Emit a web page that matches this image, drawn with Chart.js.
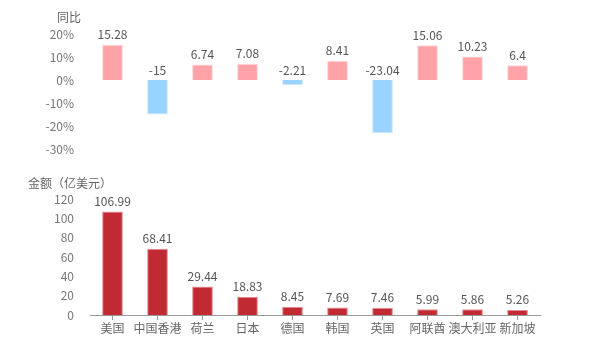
<!DOCTYPE html>
<html>
<head>
<meta charset="utf-8">
<script src="https://cdn.jsdelivr.net/npm/chart.js@4/dist/chart.umd.min.js"></script>
<style>
  html, body { margin: 0; padding: 0; background: #fff; }
  body { width: 600px; height: 350px; position: relative; overflow: hidden;
         font-family: "Noto Sans CJK SC", "Noto Sans", sans-serif; }
  .box { position: absolute; left: 0; width: 600px; }
  .ttl { position: absolute; font-size: 12px; color: #666; white-space: nowrap; }
</style>
</head>
<body>
<div class="box" style="top:0;height:170px"><canvas id="c-yoy"></canvas></div>
<div class="box" style="top:170px;height:180px"><canvas id="c-amt"></canvas></div>
<div class="ttl" style="left:57px;top:8px">同比</div>
<div class="ttl" style="left:28px;top:174px">金额（亿美元）</div>
<script>
// countries / regions
const categories = ['美国','中国香港','荷兰','日本','德国','韩国','英国','阿联酋','澳大利亚','新加坡'];
// year-on-year change, %
const yoyValues = [15.28, -15, 6.74, 7.08, -2.21, 8.41, -23.04, 15.06, 10.23, 6.4];
// amount, 100 million USD
const amountValues = [106.99, 68.41, 29.44, 18.83, 8.45, 7.69, 7.46, 5.99, 5.86, 5.26];
const yoyTicks = [20, 10, 0, -10, -20, -30];
const amountTicks = [0, 20, 40, 60, 80, 100, 120];

const FONT = '"Noto Sans CJK SC", "Noto Sans", sans-serif';
const POS = '#ffa3a8', POS_B = '#ffd3d5';
const NEG = '#99d3ff', NEG_B = '#cbe9ff';
const RED = '#c22a33', RED_B = '#e88a8f';

// value labels above each bar (above the zero line for negatives)
const valueLabels = {
  id: 'valueLabels',
  afterDatasetsDraw(chart) {
    const ctx = chart.ctx;
    const ys = chart.scales.y;
    const ds = chart.data.datasets[0];
    ctx.save();
    ctx.font = '12px ' + FONT;
    ctx.fillStyle = '#555';
    ctx.textAlign = 'center';
    ctx.textBaseline = 'bottom';
    chart.getDatasetMeta(0).data.forEach((bar, i) => {
      const v = ds.data[i];
      const top = ys.getPixelForValue(Math.max(v, 0));
      ctx.fillText(String(v), bar.x, top - 4);
    });
    ctx.restore();
  }
};

const tickFont = { family: FONT, size: 12 };

function yAxis(min, max, step, fmt, ticks) {
  return {
    min, max,
    afterFit(s) { s.width = 90; },
    afterBuildTicks(s) { s.ticks = ticks.map(v => ({ value: v })); },
    grid: { display: false },
    border: { display: false },
    ticks: { stepSize: step, padding: 8, color: '#777', font: tickFont, callback: fmt },
  };
}

new Chart(document.getElementById('c-yoy'), {
  type: 'bar',
  data: {
    labels: categories,
    datasets: [{
      data: yoyValues,
      backgroundColor: yoyValues.map(v => v >= 0 ? POS : NEG),
      borderColor: yoyValues.map(v => v >= 0 ? POS_B : NEG_B),
      borderWidth: 1,
      categoryPercentage: 0.46,
      barPercentage: 1,
    }],
  },
  options: {
    responsive: true, maintainAspectRatio: false, animation: false,
    layout: { padding: { top: 34, bottom: 21, left: 0, right: 60 } },
    plugins: { legend: { display: false }, tooltip: { enabled: false } },
    scales: {
      x: { display: false, offset: true },
      y: yAxis(-30, 20, 10, v => v + '%', yoyTicks),
    },
  },
  plugins: [valueLabels],
});

new Chart(document.getElementById('c-amt'), {
  type: 'bar',
  data: {
    labels: categories,
    datasets: [{
      data: amountValues,
      backgroundColor: RED,
      borderColor: RED_B,
      borderWidth: 1,
      categoryPercentage: 0.46,
      barPercentage: 1,
    }],
  },
  options: {
    responsive: true, maintainAspectRatio: false, animation: false,
    layout: { padding: { top: 29, bottom: 0, left: 0, right: 60 } },
    plugins: { legend: { display: false }, tooltip: { enabled: false } },
    scales: {
      x: {
        offset: true,
        afterFit(s) { s.height = 35; },
        grid: { offset: false, drawOnChartArea: false, drawTicks: true, tickLength: 5, tickColor: '#999' },
        border: { display: true, color: '#999', width: 1 },
        ticks: { color: '#666', font: tickFont, padding: 1, autoSkip: false, maxRotation: 0 },
      },
      y: yAxis(0, 120, 20, v => v, amountTicks),
    },
  },
  plugins: [valueLabels],
});
</script>
</body>
</html>
